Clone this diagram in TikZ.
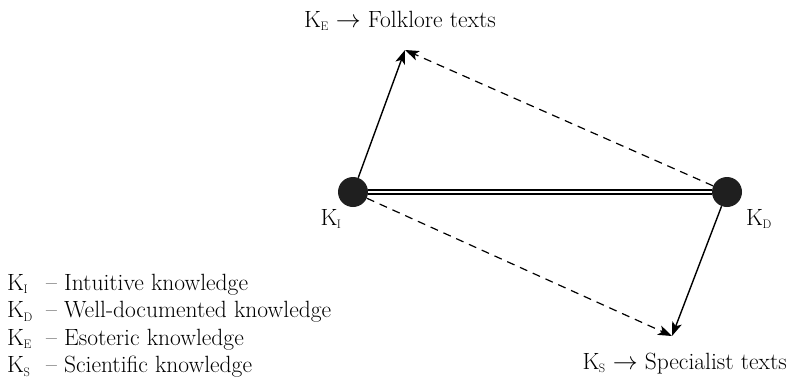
\documentclass[tikz,border=0pt]{standalone}
\usepackage{fontspec}
\usepackage{tikz}
\usetikzlibrary{positioning,arrows.meta,calc}

\newcommand{\ksub}[1]{K\textsubscript{\kern-0.5pt\scalebox{0.75}{#1}}}

\begin{document}
\begin{tikzpicture}[x=1pt,y=-1pt,font=\fontsize{23.5}{28}\selectfont,
    dot/.style={circle, fill=black!88, minimum size=30pt, inner sep=0pt},
    solidarr/.style={line width=1.4pt, -{Stealth[length=14pt,width=10pt,inset=3.5pt]}},
    dasharr/.style={line width=1.2pt, dash pattern=on 8pt off 6pt, -{Stealth[length=14pt,width=10pt,inset=3.5pt]}},
    link/.style={double, line width=1.3pt, double distance=2.6pt}]
    \useasboundingbox (0,0) rectangle (788,381);
    % two knowledge poles
    \node[dot] (ki) at (353,192) {};
    \node[dot] (kd) at (727,192) {};
    \node[anchor=base, inner sep=0pt] (kilab) at (331,225) {\ksub{I}};
    \node[anchor=base, inner sep=0pt] (kdlab) at (759,225) {\ksub{D}};

    % arrow tips and their texts
    \coordinate (etip) at (405,50);
    \coordinate (stip) at (672,336);
    \node[anchor=base, inner sep=0pt] (etext) at (400,27) {\ksub{E} $\rightarrow$ Folklore texts};
    \node[anchor=base east, inner sep=0pt] (stext) at (787,369) {\ksub{S} $\rightarrow$ Specialist texts};

    % connectors
    \draw[link] (ki) -- (kd);
    \draw[solidarr] (ki) -- (etip);
    \draw[dasharr] (kd) -- (etip);
    \draw[solidarr] (kd) -- (stip);
    \draw[dasharr] (ki) -- (stip);

    % legend
    \foreach \s/\t [count=\i] in {I/Intuitive knowledge, D/Well-documented knowledge,
                                  E/Esoteric knowledge, S/Scientific knowledge} {
        \node[anchor=base west, inner sep=0pt] (key\i) at (7,262.5+27.5*\i) {\ksub{\s}};
        \node[anchor=base west, inner sep=0pt] (desc\i) at (46,262.5+27.5*\i) {-- \t};
    }
\end{tikzpicture}
\end{document}
